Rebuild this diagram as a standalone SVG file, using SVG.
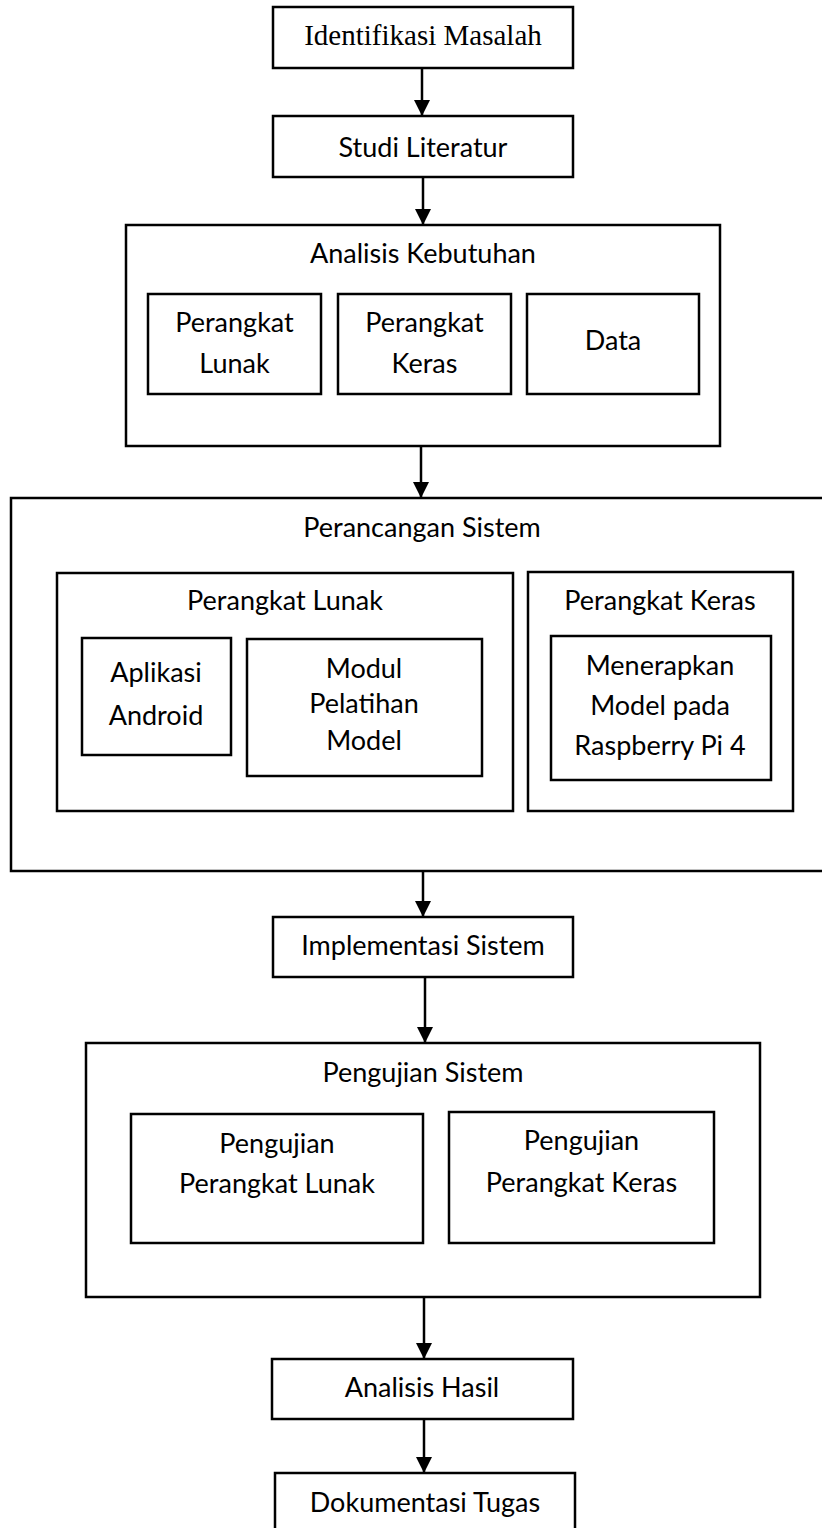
<svg xmlns="http://www.w3.org/2000/svg" width="822" height="1528" viewBox="0 0 822 1528">
<style>
rect{fill:#fff;stroke:#000;stroke-width:2.5}
text{font-family:Lato,"Liberation Sans",sans-serif;font-size:27px;fill:#000;text-anchor:middle}
text.serif{font-family:"Liberation Serif",serif;font-size:29px}
.c line{stroke:#000;stroke-width:2.5}
</style>
<defs>
<marker id="ah" markerUnits="userSpaceOnUse" markerWidth="16" markerHeight="16" viewBox="0 0 16 16" refX="16" refY="8" orient="auto">
<path d="M0,0L16,8L0,16Z" fill="#000"/>
</marker>
</defs>
<rect width="822" height="1528" style="stroke:none"/>
<g id="n-identifikasi"><rect x="273" y="7" width="300" height="61"/><text class="serif" x="423" y="45">Identifikasi Masalah</text></g>
<g id="n-studi"><rect x="273" y="116" width="300" height="61"/><text x="423" y="157">Studi Literatur</text></g>
<g id="n-analisis"><rect x="126" y="225" width="594" height="221"/><text x="423" y="263">Analisis Kebutuhan</text></g>
<g id="n-ak-lunak"><rect x="148" y="294" width="173" height="100"/><text x="234.5" y="332">Perangkat</text><text x="234.5" y="373">Lunak</text></g>
<g id="n-ak-keras"><rect x="338" y="294" width="173" height="100"/><text x="424.5" y="332">Perangkat</text><text x="424.5" y="373">Keras</text></g>
<g id="n-ak-data"><rect x="527" y="294" width="172" height="100"/><text x="613" y="350">Data</text></g>
<g id="n-perancangan"><rect x="11" y="498" width="825" height="373"/><text x="422" y="537">Perancangan Sistem</text></g>
<g id="n-pr-lunak"><rect x="57" y="573" width="456" height="238"/><text x="285" y="610">Perangkat Lunak</text></g>
<g id="n-pr-keras"><rect x="528" y="572" width="265" height="239"/><text x="660" y="610">Perangkat Keras</text></g>
<g id="n-aplikasi"><rect x="82" y="638" width="149" height="117"/><text x="156" y="682">Aplikasi</text><text x="156" y="725">Android</text></g>
<g id="n-modul"><rect x="247" y="639" width="235" height="137"/><text x="364" y="678">Modul</text><text x="364" y="713">Pelatihan</text><text x="364" y="750">Model</text></g>
<g id="n-menerapkan"><rect x="551" y="636" width="220" height="144"/><text x="660" y="675">Menerapkan</text><text x="660" y="715">Model pada</text><text x="660" y="755">Raspberry Pi 4</text></g>
<g id="n-implementasi"><rect x="273" y="917" width="300" height="60"/><text x="423" y="955">Implementasi Sistem</text></g>
<g id="n-pengujian"><rect x="86" y="1043" width="674" height="254"/><text x="423" y="1082">Pengujian Sistem</text></g>
<g id="n-pj-lunak"><rect x="131" y="1114" width="292" height="129"/><text x="277" y="1153">Pengujian</text><text x="277" y="1193">Perangkat Lunak</text></g>
<g id="n-pj-keras"><rect x="449" y="1112" width="265" height="131"/><text x="581.5" y="1150">Pengujian</text><text x="581.5" y="1192">Perangkat Keras</text></g>
<g id="n-hasil"><rect x="272" y="1359" width="301" height="60"/><text x="422" y="1397">Analisis Hasil</text></g>
<g id="n-dokumentasi"><rect x="275" y="1473" width="300" height="70"/><text x="425" y="1512">Dokumentasi Tugas</text></g>
<g id="connectors" class="c">
<line x1="422" y1="68" x2="422" y2="116" marker-end="url(#ah)"/>
<line x1="423" y1="177" x2="423" y2="225" marker-end="url(#ah)"/>
<line x1="421" y1="446" x2="421" y2="498" marker-end="url(#ah)"/>
<line x1="423" y1="871" x2="423" y2="917" marker-end="url(#ah)"/>
<line x1="425" y1="977" x2="425" y2="1043" marker-end="url(#ah)"/>
<line x1="424" y1="1297" x2="424" y2="1359" marker-end="url(#ah)"/>
<line x1="424" y1="1419" x2="424" y2="1473" marker-end="url(#ah)"/>
</g>
</svg>
